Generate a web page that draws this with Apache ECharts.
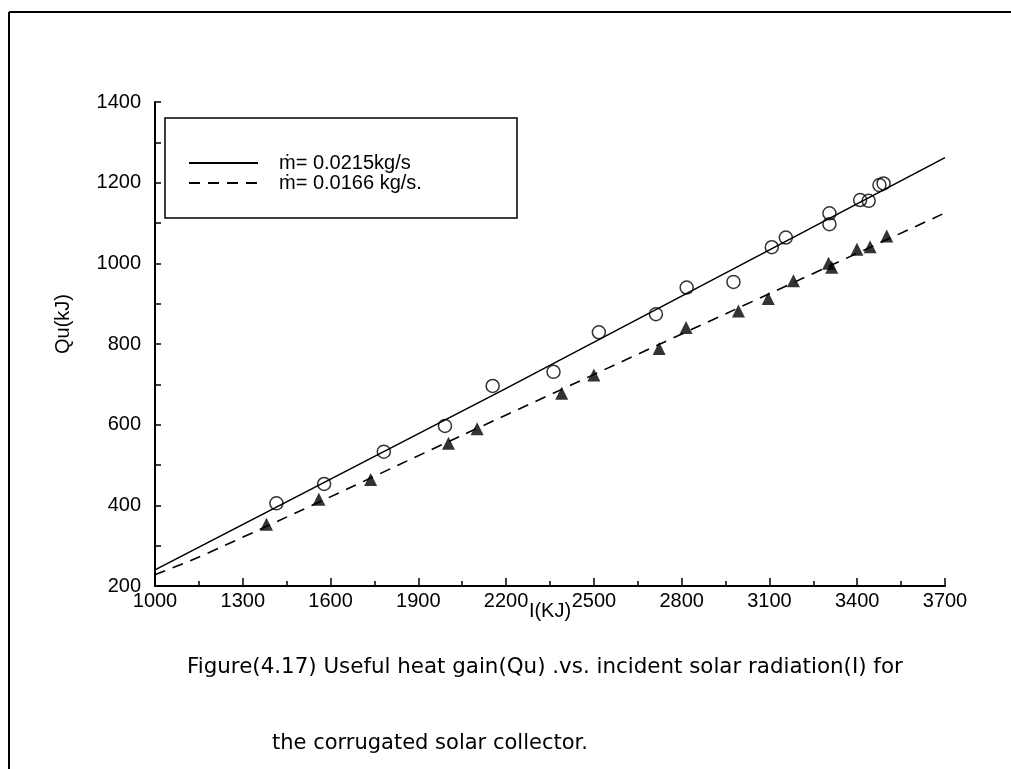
<!DOCTYPE html>
<html>
<head>
<meta charset="utf-8">
<script src="https://cdn.jsdelivr.net/npm/echarts@6/dist/echarts.min.js"></script>
<style>
html,body{margin:0;padding:0;background:#fff;}
#chart{width:1011px;height:769px;}
</style>
</head>
<body>
<div id="chart"></div>
<script>
// ---- data ----
var xTickLabels = ['1000','1300','1600','1900','2200','2500','2800','3100','3400','3700'];
var yTickLabels = ['200','400','600','800','1000','1200','1400'];

// m = 0.0215 kg/s  (open circles)
var circleX = [1415,1578,1782,1991,2154,2362,2517,2712,2817,2977,3108,3156,3305,3305,3410,3439,3476,3490];
var circleY = [405,453,533,597,696,731,829,874,940,954,1040,1064,1124,1097,1157,1155,1194,1198];
// m = 0.0166 kg/s  (filled triangles)
var triX = [1381,1560,1737,2003,2101,2390,2500,2723,2815,2994,3096,3182,3302,3313,3399,3444,3501];
var triY = [353,415,464,554,590,678,723,789,841,882,913,957,1000,990,1035,1041,1068];

// fitted curves
var solidX = [1000,2200,3700];
var solidY = [240,690,1262];
var dashX = [1000,1200,2200,3700];
var dashY = [228,288,624,1125];

var legendNames = ['ṁ= 0.0215kg/s', 'ṁ= 0.0166 kg/s.'];
var captionLine1 = 'Figure(4.17) Useful heat gain(Qu) .vs. incident solar radiation(I) for';
var captionLine2 = 'the corrugated solar collector.';

function zip(a,b){ return a.map(function(v,i){ return [v,b[i]]; }); }

var FONT = 'Liberation Sans';
var CAPFONT = 'DejaVu Sans';
var chart = echarts.init(document.getElementById('chart'), null, {renderer:'canvas'});
chart.setOption({
  backgroundColor:'#fff',
  animation:false,
  textStyle:{fontFamily:FONT, color:'#000'},
  grid:{left:155, right:66, top:102, bottom:183, containLabel:false},
  xAxis:[{
    type:'value', min:1000, max:3700,
    axisLine:{show:true, lineStyle:{color:'#000', width:2}},
    axisTick:{show:false}, axisLabel:{show:false}, splitLine:{show:false}
  },{
    type:'value', min:0, max:2700, interval:300, position:'bottom',
    axisLine:{show:false},
    axisTick:{show:true, inside:true, length:8, lineStyle:{color:'#000', width:1.5}},
    minorTick:{show:true, splitNumber:2, length:5, lineStyle:{color:'#000', width:1.5}},
    axisLabel:{show:true, margin:5, fontSize:20, fontFamily:FONT, color:'#000',
      formatter:function(v){ return xTickLabels[Math.round(v/300)]; }},
    splitLine:{show:false},
    name:'I(KJ)', nameLocation:'middle', nameGap:15, nameMoveOverlap:false,
    nameTextStyle:{fontSize:20, fontFamily:FONT, color:'#000', verticalAlign:'top'}
  }],
  yAxis:{
    type:'value', min:200, max:1400, interval:200,
    axisLine:{show:true, lineStyle:{color:'#000', width:2}},
    axisTick:{show:true, inside:true, length:6, lineStyle:{color:'#000', width:1.5}},
    minorTick:{show:true, splitNumber:2, length:6, lineStyle:{color:'#000', width:1.5}},
    axisLabel:{margin:14, fontSize:20, fontFamily:FONT, color:'#000',
      formatter:function(v){ return yTickLabels[Math.round((v-200)/200)]; }},
    splitLine:{show:false},
    name:'Qu(kJ)', nameLocation:'middle', nameGap:82, nameRotate:90, nameMoveOverlap:false,
    nameTextStyle:{fontSize:20, fontFamily:FONT, color:'#000', padding:[0,0,0,40]}
  },
  legend:{
    show:true, orient:'vertical', left:188, top:153, padding:0, itemGap:0,
    itemWidth:69, itemHeight:16,
    data:legendNames,
    itemStyle:{color:'rgba(0,0,0,0)', borderColor:'rgba(0,0,0,0)', borderWidth:0},
    textStyle:{fontSize:20, fontFamily:FONT, color:'#000', padding:[0,0,0,16]}
  },
  series:[{
    name:legendNames[0], type:'line', xAxisIndex:0, data:zip(solidX,solidY),
    symbol:'none', smooth:true, lineStyle:{color:'#000', width:1.6, type:'solid'}, itemStyle:{color:'#000'}
  },{
    name:legendNames[1], type:'line', xAxisIndex:0, data:zip(dashX,dashY),
    symbol:'none', smooth:true, lineStyle:{color:'#000', width:1.6, type:[11,8]}, itemStyle:{color:'#000'}
  },{
    name:'circles', type:'scatter', xAxisIndex:0, data:zip(circleX,circleY),
    symbol:'circle', symbolSize:13,
    itemStyle:{color:'rgba(255,255,255,0)', borderColor:'#000', borderWidth:1.5}
  },{
    name:'triangles', type:'scatter', xAxisIndex:0, data:zip(triX,triY),
    symbol:'triangle', symbolSize:[13,13],
    itemStyle:{color:'#000'}
  }],
  title:[{
    text:captionLine1, left:182, top:652,
    textStyle:{fontSize:21.4, fontWeight:'normal', fontFamily:CAPFONT, color:'#000'}
  },{
    text:captionLine2, left:267, top:728,
    textStyle:{fontSize:21, fontWeight:'normal', fontFamily:CAPFONT, color:'#000'}
  }],
  graphic:[
    {type:'rect', shape:{x:165, y:118, width:352, height:100}, style:{fill:null, stroke:'#000', lineWidth:1.5}},
    {type:'line', shape:{x1:9, y1:12, x2:1011, y2:12}, style:{stroke:'#000', lineWidth:2}},
    {type:'line', shape:{x1:9, y1:12, x2:9, y2:769}, style:{stroke:'#000', lineWidth:2}}
  ]
});
</script>
</body>
</html>
